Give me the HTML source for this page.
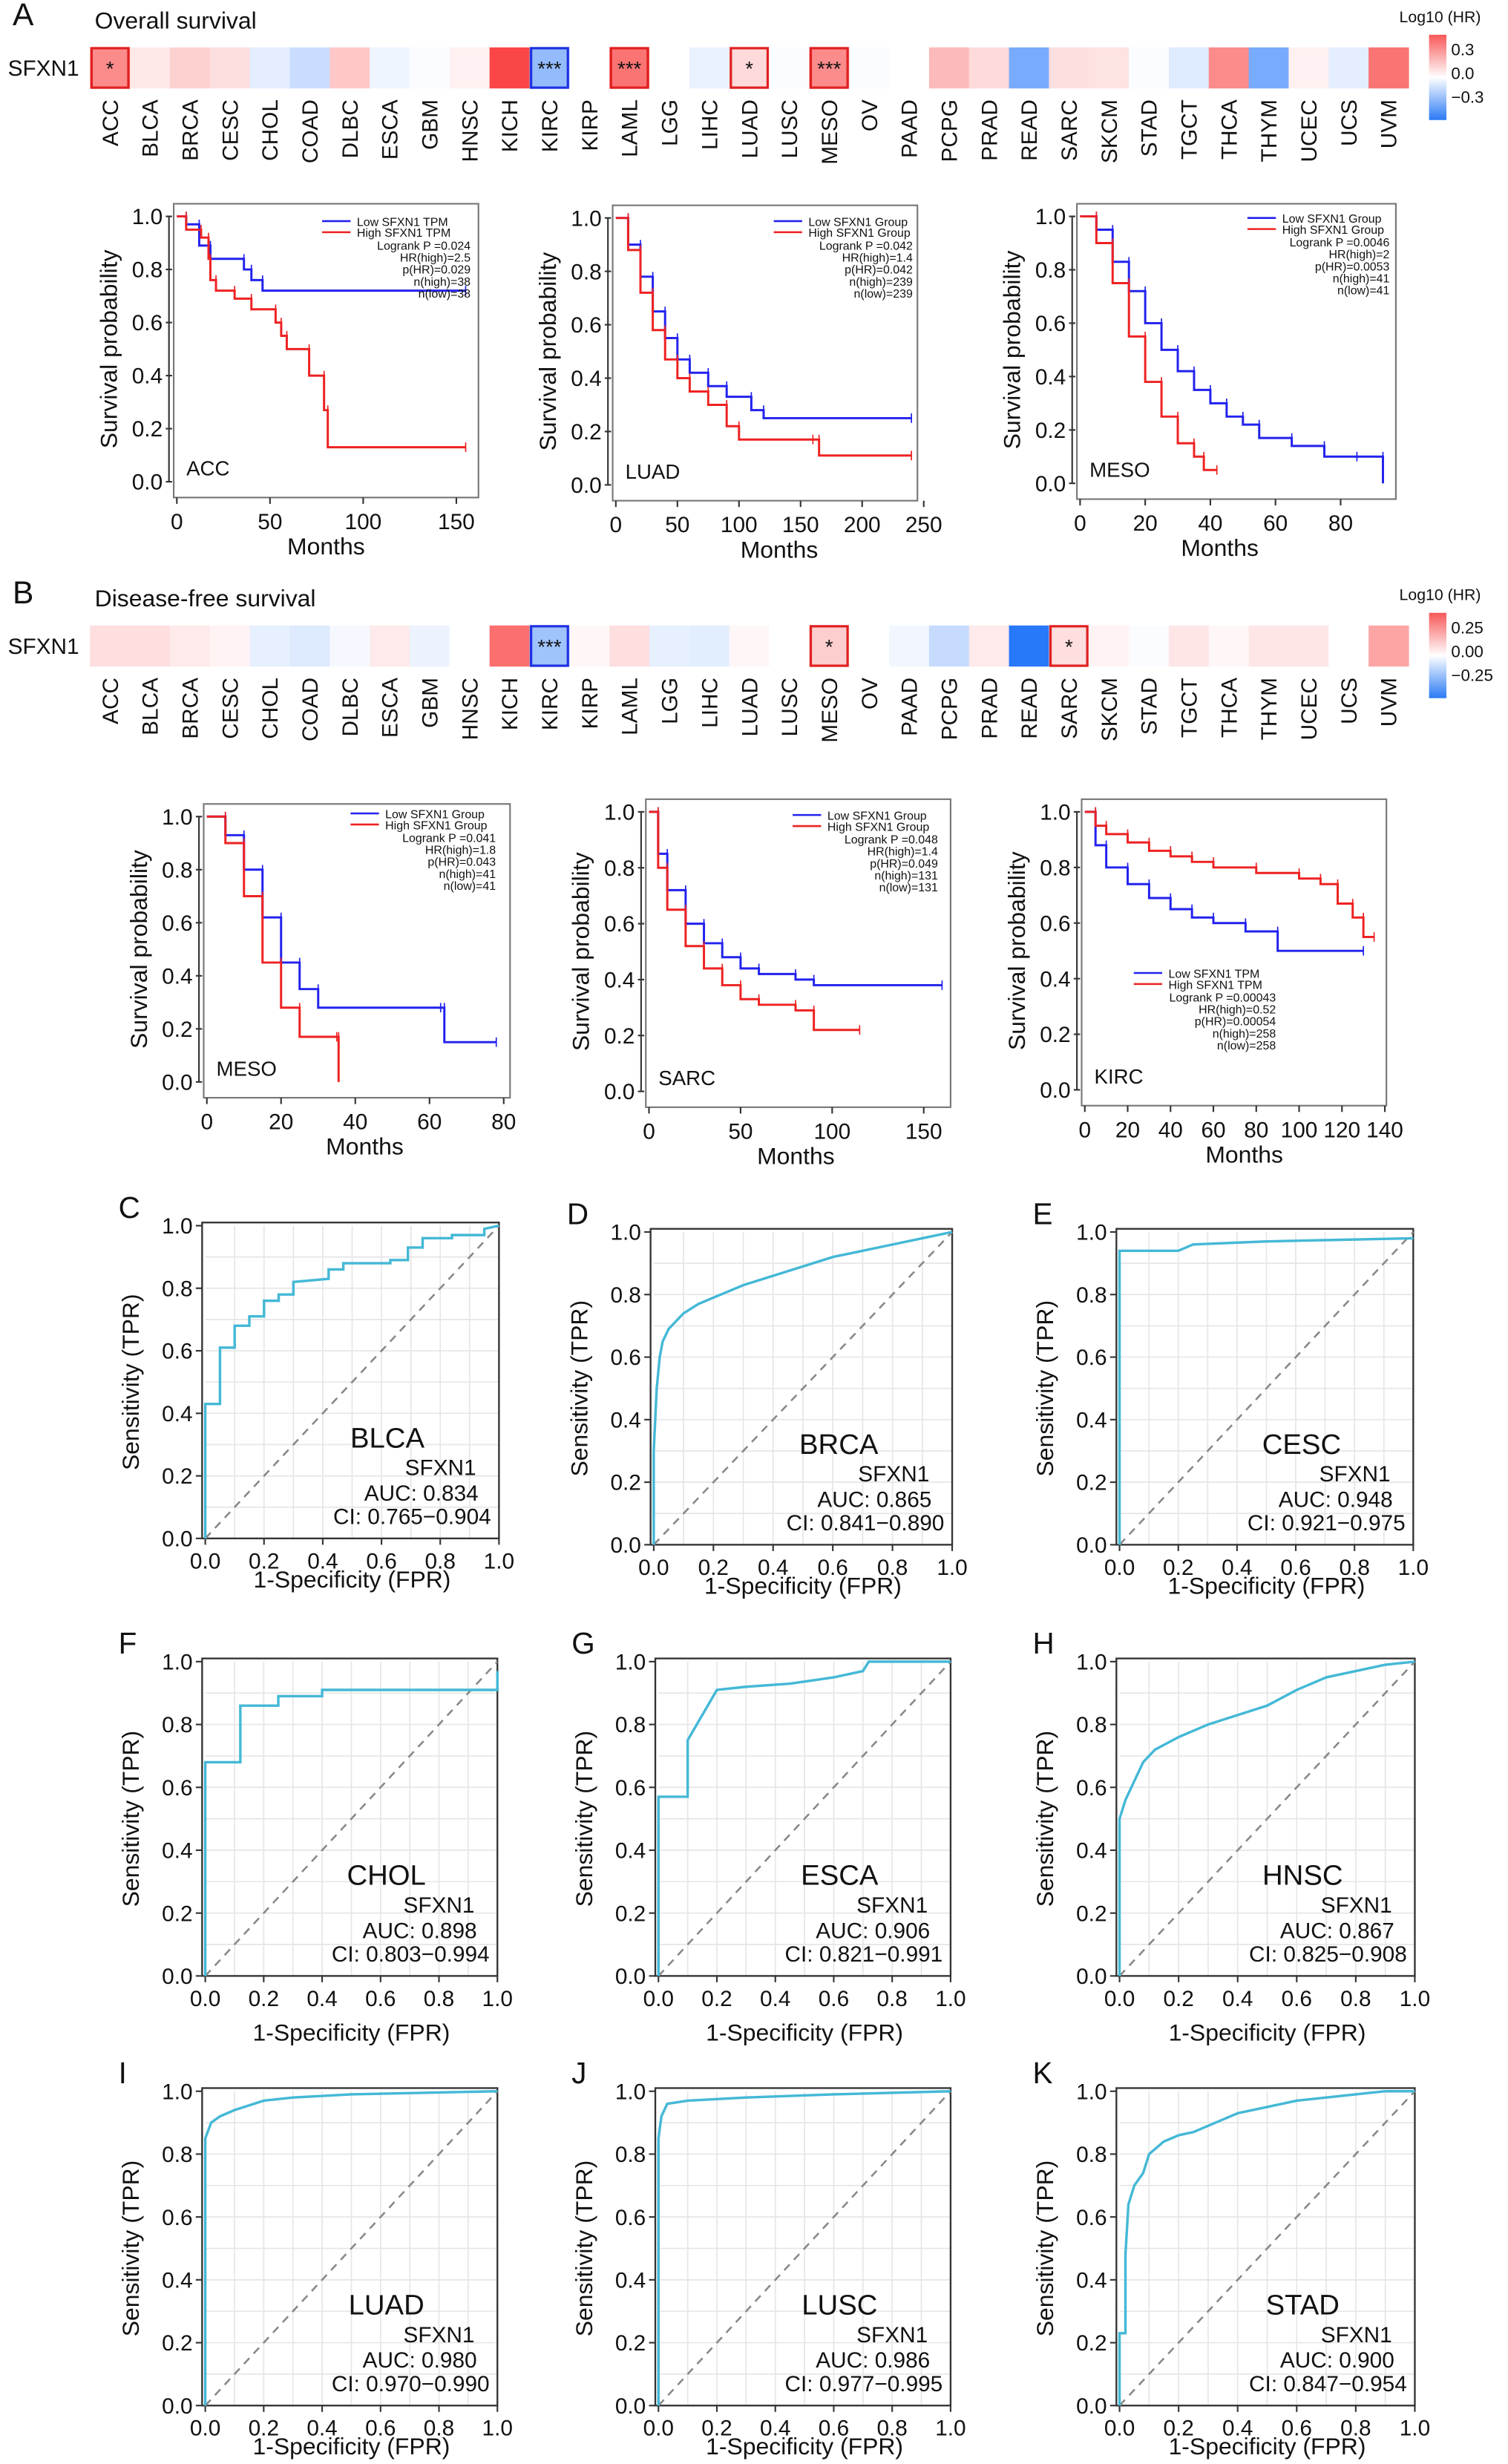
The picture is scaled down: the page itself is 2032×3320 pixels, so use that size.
<!DOCTYPE html>
<html><head><meta charset="utf-8">
<style>
html,body{margin:0;padding:0;background:#fff;}
svg{display:block;font-family:"Liberation Sans",Arial,sans-serif;}
</style></head>
<body>
<svg id="fig" xmlns="http://www.w3.org/2000/svg" width="2032" height="3320" viewBox="0 0 955 1560" preserveAspectRatio="none">
<rect width="955" height="1560" fill="#fff"/>
</svg>
<script>
// ---------- Heatmap data ----------
const cancers = ["ACC","BLCA","BRCA","CESC","CHOL","COAD","DLBC","ESCA","GBM","HNSC","KICH","KIRC","KIRP","LAML","LGG","LIHC","LUAD","LUSC","MESO","OV","PAAD","PCPG","PRAD","READ","SARC","SKCM","STAD","TGCT","THCA","THYM","UCEC","UCS","UVM"];
const osHR = [0.25,0.05,0.1,0.07,-0.05,-0.1,0.12,-0.03,-0.01,0.03,0.4,-0.2,0,0.3,0,-0.04,0.08,-0.01,0.25,-0.01,0,0.15,0.08,-0.25,0.07,0.06,-0.01,-0.06,0.25,-0.25,0.03,-0.05,0.3];
const osSig = ["*","","","","","","","","","","","***","","***","","","*","","***","","","","","","","","","","","","","",""];
const dfsHR = [0.08,0.08,0.05,0.03,-0.05,-0.07,-0.02,0.05,-0.04,0,0.35,-0.2,0.02,0.08,-0.05,-0.06,0.02,0,0.12,0,-0.03,-0.12,0.05,-0.45,0.08,0.03,-0.01,0.06,0.02,0.06,0.06,0,0.22];
const dfsSig = ["","","","","","","","","","","","***","","","","","","","*","","","","","","*","","","","","","","",""];

// ---------- KM data (months, survival) ----------
const accLowT = [0,5,12,18,36,40,46,155];
const accLowS = [1,0.97,0.89,0.84,0.80,0.76,0.72,0.72];
const accHighT = [0,5,13,17,18,21,31,40,53,56,59,71,79,81,155];
const accHighS = [1,0.95,0.92,0.84,0.76,0.72,0.69,0.65,0.60,0.55,0.50,0.40,0.27,0.13,0.13];
const luadLowT = [0,10,20,30,40,50,60,75,90,110,120,240];
const luadLowS = [1,0.9,0.78,0.65,0.55,0.47,0.42,0.37,0.33,0.28,0.25,0.25];
const luadHighT = [0,10,20,30,40,50,60,75,90,100,160,165,240];
const luadHighS = [1,0.88,0.72,0.58,0.47,0.40,0.35,0.30,0.22,0.17,0.17,0.11,0.11];
const mesoOsLowT = [0,5,10,15,20,25,30,35,40,45,50,55,65,75,85,93];
const mesoOsLowS = [1,0.95,0.83,0.72,0.6,0.5,0.42,0.35,0.3,0.25,0.22,0.17,0.14,0.1,0.1,0];
const mesoOsHighT = [0,5,10,15,20,25,30,35,38,42];
const mesoOsHighS = [1,0.9,0.75,0.55,0.38,0.25,0.15,0.1,0.05,0.05];
const mesoDfsLowT = [0,5,10,15,20,25,30,63,64,78];
const mesoDfsLowS = [1,0.93,0.8,0.62,0.45,0.35,0.28,0.28,0.15,0.15];
const mesoDfsHighT = [0,5,10,15,20,25,35,35.5];
const mesoDfsHighS = [1,0.9,0.7,0.45,0.28,0.17,0.17,0];
const sarcLowT = [0,5,10,20,30,40,50,60,80,90,160];
const sarcLowS = [1,0.85,0.72,0.6,0.53,0.48,0.44,0.42,0.4,0.38,0.38];
const sarcHighT = [0,5,10,20,30,40,50,60,80,90,115];
const sarcHighS = [1,0.8,0.65,0.52,0.44,0.38,0.33,0.31,0.29,0.22,0.22];
const kircLowT = [0,5,10,20,30,40,50,60,75,90,130];
const kircLowS = [1,0.88,0.8,0.74,0.69,0.65,0.62,0.6,0.57,0.5,0.5];
const kircHighT = [0,5,10,20,30,40,50,60,80,100,110,118,125,130,135];
const kircHighS = [1,0.95,0.92,0.89,0.86,0.84,0.82,0.8,0.78,0.76,0.74,0.67,0.62,0.55,0.55];

// ---------- ROC data ----------
const blcaFpr = [0,0,0.05,0.05,0.1,0.1,0.15,0.15,0.2,0.2,0.25,0.25,0.3,0.3,0.42,0.42,0.47,0.47,0.63,0.63,0.69,0.69,0.74,0.74,0.84,0.84,0.95,0.95,1];
const blcaTpr = [0,0.43,0.43,0.61,0.61,0.68,0.68,0.71,0.71,0.76,0.76,0.78,0.78,0.82,0.83,0.86,0.86,0.88,0.88,0.89,0.89,0.93,0.93,0.96,0.96,0.97,0.97,0.99,1];
const brcaFpr = [0,0,0.01,0.02,0.03,0.05,0.08,0.1,0.15,0.2,0.3,0.4,0.5,0.6,0.7,0.8,0.9,1];
const brcaTpr = [0,0.3,0.5,0.6,0.65,0.69,0.72,0.74,0.77,0.79,0.83,0.86,0.89,0.92,0.94,0.96,0.98,1];
const cescFpr = [0,0,0.2,0.25,0.5,1];
const cescTpr = [0,0.94,0.94,0.96,0.97,0.98];
const cholFpr = [0,0,0.12,0.12,0.25,0.25,0.4,0.4,1,1];
const cholTpr = [0,0.68,0.68,0.86,0.86,0.89,0.89,0.91,0.91,0.97];
const escaFpr = [0,0,0.1,0.1,0.2,0.3,0.45,0.6,0.7,0.72,1];
const escaTpr = [0,0.57,0.57,0.75,0.91,0.92,0.93,0.95,0.97,1,1];
const hnscFpr = [0,0,0.02,0.05,0.08,0.12,0.2,0.3,0.4,0.5,0.6,0.7,0.8,0.9,1];
const hnscTpr = [0,0.5,0.56,0.62,0.68,0.72,0.76,0.8,0.83,0.86,0.91,0.95,0.97,0.99,1];
const luadFpr = [0,0,0.02,0.05,0.1,0.2,0.3,0.5,1];
const luadTpr = [0,0.85,0.9,0.92,0.94,0.97,0.98,0.99,1];
const luscFpr = [0,0,0.01,0.03,0.1,0.3,0.6,1];
const luscTpr = [0,0.85,0.92,0.96,0.97,0.98,0.99,1];
const stadFpr = [0,0,0.02,0.02,0.03,0.05,0.08,0.1,0.15,0.2,0.25,0.3,0.4,0.5,0.6,0.7,0.8,0.9,1];
const stadTpr = [0,0.23,0.23,0.48,0.64,0.7,0.74,0.8,0.84,0.86,0.87,0.89,0.93,0.95,0.97,0.98,0.99,1,1];
const rocTicks = ["0.0","0.2","0.4","0.6","0.8","1.0"];

const svg = document.getElementById('fig');
const NS = "http://www.w3.org/2000/svg";
function el(tag, attrs, parent, txt){
  const e = document.createElementNS(NS, tag);
  for (const k in attrs) e.setAttribute(k, attrs[k]);
  if (txt !== undefined) e.textContent = txt;
  (parent || svg).appendChild(e);
  return e;
}
function txt(x,y,s,size,anchor,parent,extra){
  const t = el('text', Object.assign({x:x,y:y,'font-size':size,'text-anchor':anchor||'start',fill:'#111'}, extra||{}), parent, s);
  return t;
}
function hrColor(v, m){
  let a = Math.min(1, Math.abs(v)/m);
  let c = v >= 0 ? [250,70,70] : [40,120,250];
  let r = Math.round(255 + (c[0]-255)*a), g = Math.round(255 + (c[1]-255)*a), b = Math.round(255 + (c[2]-255)*a);
  return `rgb(${r},${g},${b})`;
}

function heatmap(name, yTop, vals, sigs, m, letter, title, ticks){
  const g = el('g', {});
  
  
  const x0 = 57, cw = (892-57)/cancers.length, h = 26;
  const lt = txt(8, yTop-14, letter, 20, 'start', g);
  
  
  const tt = txt(60, yTop-12, title, 15, 'start', g);
  
  
  const rl = txt(5, yTop+18, "SFXN1", 14, 'start', g);
  
  
  vals.forEach((v,i)=>{
    const x = x0 + i*cw;
    const r = el('rect', {x:x, y:yTop, width:cw+0.3, height:h, fill:hrColor(v,m)}, g);
    
    
    if (sigs[i]) {
      el('rect', {x:x+1, y:yTop+0.5, width:cw-2, height:h-1, fill:'none', stroke: v>=0 ? '#e02020' : '#2030e0', 'stroke-width':1.5}, g);
      txt(x+cw/2, yTop+h/2+5, sigs[i], 13, 'middle', g);
    }
    const lab = txt(0, 0, cancers[i], 14, 'end', g, {transform:`translate(${x+cw/2+5},${yTop+33}) rotate(-90)`});
    
    
  });
  // colorbar
  const gid = 'grad' + letter;
  const defs = el('defs', {}, g);
  const lg = el('linearGradient', {id:gid, x1:0, y1:0, x2:0, y2:1}, defs);
  el('stop', {offset:'0%', 'stop-color':'#f85858'}, lg);
  el('stop', {offset:'50%', 'stop-color':'#ffffff'}, lg);
  el('stop', {offset:'100%', 'stop-color':'#2a7af5'}, lg);
  const cb = el('rect', {x:905, y:yTop-8, width:11, height:54, fill:`url(#${gid})`}, g);
  
  
  txt(912, yTop-16, "Log10 (HR)", 10, 'middle', g);
  ticks.forEach((t,i)=>{ txt(919, yTop+5+i*15, t, 10.5, 'start', g); });
}
heatmap('heatmap-overall-survival', 30, osHR, osSig, 0.4, 'A', 'Overall survival', ['0.3','0.0','\u22120.3']);
heatmap('heatmap-disease-free-survival', 396, dfsHR, dfsSig, 0.45, 'B', 'Disease-free survival', ['0.25','0.00','\u22120.25']);

function stepPath(T,S,sx,sy){
  let d = `M${sx(T[0])},${sy(S[0])}`;
  for (let i=1;i<T.length;i++){ d += ` H${sx(T[i])} V${sy(S[i])}`; }
  return d;
}
function km(name, c, lowT, lowS, highT, highS, xTicks, xMax, label, legend, stats, legendBottom){
  const g = el('g', {});
  
  
  const sx = t => c.x0 + (c.x1 - c.x0) * t / xMax;
  const sy = s => c.y0 - (c.y0 - c.y1) * s;
  el('rect', {x:c.x0-2, y:c.y1-8, width:c.bw, height:(c.y0-c.y1)+18, fill:'none', stroke:'#777', 'stroke-width':1}, g);
  // axes ticks
  [0,0.2,0.4,0.6,0.8,1.0].forEach(v=>{
    el('line', {x1:c.x0-7, x2:c.x0-3, y1:sy(v), y2:sy(v), stroke:'#333'}, g);
    txt(c.x0-9, sy(v)+5, v.toFixed(1), 14, 'end', g);
  });
  xTicks.forEach(t=>{
    el('line', {x1:sx(t), x2:sx(t), y1:c.y0+10, y2:c.y0+14, stroke:'#333'}, g);
    txt(sx(t), c.y0+30, String(t), 14, 'middle', g);
  });
  el('line', {x1:c.x0-5, x2:c.x0-5, y1:c.y1, y2:c.y0, stroke:'#333'}, g);
  const yt = txt(0,0,"Survival probability", 15, 'middle', g, {transform:`translate(${c.x0-38},${(c.y0+c.y1)/2}) rotate(-90)`});
  
  
  const xt = txt((c.x0+c.x1)/2+6, c.y0+46, "Months", 15, 'middle', g);
  
  
  const lp = el('path', {d:stepPath(lowT,lowS,sx,sy), fill:'none', stroke:'#2222ee', 'stroke-width':1.4}, g);
  
  
  const hp = el('path', {d:stepPath(highT,highS,sx,sy), fill:'none', stroke:'#ee2222', 'stroke-width':1.4}, g);
  
  
  // censor marks at plateau ends
  [[lowT,lowS,'#2222ee'],[highT,highS,'#ee2222']].forEach(([T,S,col])=>{
    for (let i=1;i<T.length;i++){
      const x = sx(T[i]), y = sy(S[i-1]);
      el('line', {x1:x, x2:x, y1:y-3, y2:y+3, stroke:col, 'stroke-width':0.8}, g);
    }
  });
  const lt = txt(c.x0+6, c.y0-4, label, 13, 'start', g);
  
  
  // legend
  const lx = legend.x, ly = legend.y;
  const leg = el('g', {}, g);
  
  
  el('line', {x1:lx, x2:lx+18, y1:ly, y2:ly, stroke:'#2222ee', 'stroke-width':1.2}, leg);
  el('line', {x1:lx, x2:lx+18, y1:ly+7, y2:ly+7, stroke:'#ee2222', 'stroke-width':1.2}, leg);
  txt(lx+22, ly+3, legend.low, 7.5, 'start', leg);
  txt(lx+22, ly+10, legend.high, 7.5, 'start', leg);
  stats.forEach((s,i)=>{ txt(legend.sx, ly+18+i*7.6, s, 7.5, 'end', leg); });
}

km('km-acc-os', {x0:112,x1:289,y0:305,y1:137,bw:193}, accLowT, accLowS, accHighT, accHighS, [0,50,100,150], 150, 'ACC',
  {x:204,y:140,sx:298,low:'Low SFXN1 TPM',high:'High SFXN1 TPM'}, ['Logrank P =0.024','HR(high)=2.5','p(HR)=0.029','n(high)=38','n(low)=38']);
km('km-luad-os', {x0:390,x1:585,y0:307,y1:138,bw:193}, luadLowT, luadLowS, luadHighT, luadHighS, [0,50,100,150,200,250], 250, 'LUAD',
  {x:490,y:140,sx:578,low:'Low SFXN1 Group',high:'High SFXN1 Group'}, ['Logrank P =0.042','HR(high)=1.4','p(HR)=0.042','n(high)=239','n(low)=239']);
km('km-meso-os', {x0:684,x1:849,y0:306,y1:137,bw:202}, mesoOsLowT, mesoOsLowS, mesoOsHighT, mesoOsHighS, [0,20,40,60,80], 80, 'MESO',
  {x:790,y:138,sx:880,low:'Low SFXN1 Group',high:'High SFXN1 Group'}, ['Logrank P =0.0046','HR(high)=2','p(HR)=0.0053','n(high)=41','n(low)=41']);
km('km-meso-dfs', {x0:131,x1:319,y0:685,y1:517,bw:194}, mesoDfsLowT, mesoDfsLowS, mesoDfsHighT, mesoDfsHighS, [0,20,40,60,80], 80, 'MESO',
  {x:222,y:515,sx:314,low:'Low SFXN1 Group',high:'High SFXN1 Group'}, ['Logrank P =0.041','HR(high)=1.8','p(HR)=0.043','n(high)=41','n(low)=41']);
km('km-sarc-dfs', {x0:411,x1:585,y0:691,y1:514,bw:193}, sarcLowT, sarcLowS, sarcHighT, sarcHighS, [0,50,100,150], 150, 'SARC',
  {x:502,y:516,sx:594,low:'Low SFXN1 Group',high:'High SFXN1 Group'}, ['Logrank P =0.048','HR(high)=1.4','p(HR)=0.049','n(high)=131','n(low)=131']);
km('km-kirc-dfs', {x0:687,x1:877,y0:690,y1:514,bw:193}, kircLowT, kircLowS, kircHighT, kircHighS, [0,20,40,60,80,100,120,140], 140, 'KIRC',
  {x:718,y:616,sx:808,low:'Low SFXN1 TPM',high:'High SFXN1 TPM'}, ['Logrank P =0.00043','HR(high)=0.52','p(HR)=0.00054','n(high)=258','n(low)=258']);

function roc(name, letter, c, fpr, tpr, cancer, auc, ci, xtGap){
  const g = el('g', {});
  
  
  const sx = v => c.x0 + (c.x1-c.x0)*v;
  const sy = v => c.y0 - (c.y0-c.y1)*v;
  const pl = txt(c.x0-55, c.y1-5, letter, 19, 'start', g);
  
  
  for (let i=1;i<10;i++){
    el('line', {x1:sx(i/10), x2:sx(i/10), y1:sy(0), y2:sy(1), stroke:'#e6e6e6', 'stroke-width':0.8}, g);
    el('line', {x1:sx(0), x2:sx(1), y1:sy(i/10), y2:sy(i/10), stroke:'#e6e6e6', 'stroke-width':0.8}, g);
  }
  el('rect', {x:c.x0-2, y:c.y1-2, width:(c.x1-c.x0)+2, height:(c.y0-c.y1)+2, fill:'none', stroke:'#333', 'stroke-width':1.1}, g);
  rocTicks.forEach((t,i)=>{
    const v = i/5;
    el('line', {x1:sx(v), x2:sx(v), y1:c.y0, y2:c.y0+4, stroke:'#333'}, g);
    txt(sx(v), c.y0+19, t, 14, 'middle', g);
    el('line', {x1:c.x0-6, x2:c.x0-2, y1:sy(v), y2:sy(v), stroke:'#333'}, g);
    txt(c.x0-8, sy(v)+5, t, 14, 'end', g);
  });
  const diag = el('line', {x1:sx(0), y1:sy(0), x2:sx(1), y2:sy(1), stroke:'#888', 'stroke-width':1.2, 'stroke-dasharray':'5,4'}, g);
  
  
  const pts = fpr.map((f,i)=> sx(f)+','+sy(tpr[i])).join(' ');
  const cv = el('polyline', {points:pts, fill:'none', stroke:'#44b8d6', 'stroke-width':1.6}, g);
  
  
  const xt = txt((c.x0+c.x1)/2, c.y0+31+xtGap, "1-Specificity (FPR)", 15, 'middle', g);
  
  
  const yt = txt(0,0,"Sensitivity (TPR)", 15, 'middle', g, {transform:`translate(${c.x0-42},${(c.y0+c.y1)/2}) rotate(-90)`});
  
  
  const h = c.y0-c.y1;
  const cn = txt(c.x0+(c.x1-c.x0)*0.62, c.y0-h*0.29, cancer, 18, 'middle', g);
  
  
  txt(c.x1-37, c.y0-40, "SFXN1", 14, 'middle', g);
  const at = txt(c.x1-13, c.y0-24, "AUC: " + auc, 14, 'end', g);
  
  
  txt(c.x1-5, c.y0-9, "CI: " + ci, 14, 'end', g);
}
roc('roc-blca','C',{x0:130,x1:316,y0:974,y1:776}, blcaFpr, blcaTpr, 'BLCA','0.834','0.765\u22120.904',0);
roc('roc-brca','D',{x0:414,x1:603,y0:978,y1:780}, brcaFpr, brcaTpr, 'BRCA','0.865','0.841\u22120.890',0);
roc('roc-cesc','E',{x0:709,x1:895,y0:978,y1:780}, cescFpr, cescTpr, 'CESC','0.948','0.921\u22120.975',0);
roc('roc-chol','F',{x0:130,x1:315,y0:1251,y1:1052}, cholFpr, cholTpr, 'CHOL','0.898','0.803\u22120.994',10);
roc('roc-esca','G',{x0:417,x1:602,y0:1251,y1:1052}, escaFpr, escaTpr, 'ESCA','0.906','0.821\u22120.991',10);
roc('roc-hnsc','H',{x0:709,x1:896,y0:1251,y1:1052}, hnscFpr, hnscTpr, 'HNSC','0.867','0.825\u22120.908',10);
roc('roc-luad','I',{x0:130,x1:315,y0:1523,y1:1324}, luadFpr, luadTpr, 'LUAD','0.980','0.970\u22120.990',0);
roc('roc-lusc','J',{x0:417,x1:602,y0:1523,y1:1324}, luscFpr, luscTpr, 'LUSC','0.986','0.977\u22120.995',0);
roc('roc-stad','K',{x0:709,x1:896,y0:1523,y1:1324}, stadFpr, stadTpr, 'STAD','0.900','0.847\u22120.954',0);
</script>
</body></html>
